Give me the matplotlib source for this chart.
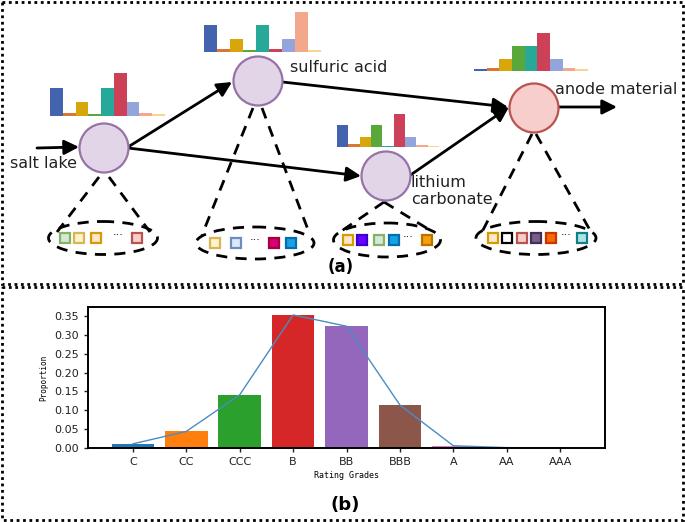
import matplotlib.pyplot as plt
from matplotlib.patches import Ellipse, Rectangle

# ---- panel (b) data
grades = ["C", "CC", "CCC", "B", "BB", "BBB", "A", "AA", "AAA"]
proportion = [0.011, 0.044, 0.141, 0.353, 0.323, 0.114, 0.006, 0.001, 0.0]
grade_colors = ["tab:blue", "tab:orange", "tab:green", "tab:red", "tab:purple",
                "tab:brown", "tab:pink", "tab:gray", "tab:olive"]

# ---- panel (a) data: mini histograms above each node (relative heights)
hist_colors = ["#4363ae", "#dc7633", "#d6a60a", "#5aa83a", "#27a99a",
               "#cc4157", "#94a5dc", "#f3a88b", "#f6d68f"]
hist_salt_lake = [28, 3, 14, 2, 28, 43, 14, 3, 2]
hist_sulfuric = [27, 3.5, 13, 2, 27, 3.5, 13, 40, 2]
hist_lithium = [22, 2.7, 10, 22, 1.3, 33, 10, 2, 1.3]
hist_anode = [2, 3.5, 12, 25, 25, 38, 12, 3.5, 2]

node_names = ["salt lake", "sulfuric acid", "lithium\ncarbonate", "anode material"]

# item squares below each node: (edge, face); None = "..."
sq_salt_lake = [("#82b366", "#d5e8d4"), ("#d6b656", "#fff2cc"), ("#d79b00", "#ffe6cc"),
                None, ("#b85450", "#f8cecc")]
sq_sulfuric = [("#d6b656", "#fff2cc"), ("#6c8ebf", "#dae8fc"), None,
               ("#a50040", "#d80073"), ("#006eaf", "#1ba1e2")]
sq_lithium = [("#d79b00", "#ffe6cc"), ("#3700cc", "#6a00ff"), ("#82b366", "#d5e8d4"),
              ("#006eaf", "#1ba1e2"), None, ("#bd7000", "#f0a30a")]
sq_anode = [("#d79b00", "#ffe6cc"), ("#000000", "#ffffff"), ("#b85450", "#f8cecc"),
            ("#432d57", "#76608a"), ("#c73500", "#fa6800"), None, ("#0e8088", "#b0e3e6")]

W, H = 685, 522
fig = plt.figure(figsize=(W / 100, H / 100), dpi=100)
ax = fig.add_axes([0, 0, 1, 1])
ax.set_xlim(0, W)
ax.set_ylim(H, 0)
ax.axis("off")

# dotted frames
for (x0, y0, x1, y1) in [(2, 2, 683, 284), (2, 287, 683, 520)]:
    ax.add_patch(Rectangle((x0, y0), x1 - x0, y1 - y0, fill=False,
                           ls=(0, (1, 1.3)), lw=2, color="k"))

# layout of nodes (pixel centres)
nodes = [(104, 148), (258, 81), (386, 176), (534, 108)]
node_face = ["#e1d5e7", "#e1d5e7", "#e1d5e7", "#f8cecc"]
node_edge = ["#9673a6", "#9673a6", "#9673a6", "#b85450"]
R = 24.5


def arrow(p0, p1):
    ax.annotate("", xy=p1, xytext=p0,
                arrowprops=dict(arrowstyle="-|>", lw=2, color="k",
                                mutation_scale=22, shrinkA=0, shrinkB=0))


arrow((37, 148), (79, 147))
arrow((128, 147), (232, 82))
arrow((128, 148), (361, 176))
arrow((282.5, 82), (508, 107))
arrow((410.5, 175), (509, 107))
arrow((559, 107), (617, 107))

for (cx, cy), fc, ec in zip(nodes, node_face, node_edge):
    ax.add_patch(Ellipse((cx, cy), 2 * R, 2 * R, fc=fc, ec=ec, lw=1.6, zorder=3))

ax.text(10, 163, node_names[0], fontsize=11.5, va="center", color="#222222")
ax.text(290, 68, node_names[1], fontsize=11.5, va="center", color="#222222")
ax.text(411, 191, node_names[2], fontsize=11.5, va="center", color="#222222",
        linespacing=1.1)
ax.text(555, 89, node_names[3], fontsize=11.5, va="center", color="#222222")
ax.text(341, 267, "(a)", fontsize=12, fontweight="bold", ha="center", va="center")
ax.text(345, 505, "(b)", fontsize=13, fontweight="bold", ha="center", va="center")

# dashed cones + ellipses with item squares
dash = (0, (4, 3))
groups = [
    ((103, 238), 109, 33, [(99, 177), (109, 177)], [(57, 232), (150, 232)],
     [-37.5, -23.5, -7, 15, 34], sq_salt_lake),
    ((255, 243), 118, 32, [(253, 108), (262, 108)], [(202, 235), (310, 235)],
     [-40, -19, 0.5, 19, 36], sq_sulfuric),
    ((387, 240), 107, 34, [(384, 202), (384, 202)], [(340, 232), (433, 232)],
     [-39, -24.5, -8, 7, 21, 40], sq_lithium),
    ((536, 238), 120, 33, [(532, 134), (536, 134)], [(482, 232), (591, 232)],
     [-42.5, -28.5, -14, 0, 15, 30, 46], sq_anode),
]
for (ex, ey), ew, eh, tops, bots, offs, squares in groups:
    ax.add_patch(Ellipse((ex, ey), ew, eh, fill=False, ls=dash, lw=2, color="k"))
    for t, b in zip(tops, bots):
        ax.plot([t[0], b[0]], [t[1], b[1]], color="k", lw=2, ls=dash)
    for dx, sq in zip(offs, squares):
        if sq is None:
            ax.text(ex + dx, ey - 3, "···", fontsize=8, ha="center", va="center")
        else:
            ax.plot(ex + dx, ey, marker="s", ms=6.5, mew=1.6,
                    mec=sq[0], mfc=sq[1], zorder=4)

# mini histograms
hists = [(hist_salt_lake, 50, 165, 116), (hist_sulfuric, 204, 321, 52),
         (hist_lithium, 337, 439, 147), (hist_anode, 474, 588, 71)]
for vals, x0, x1, base in hists:
    hax = fig.add_axes([x0 / W, 1 - base / H, (x1 - x0) / W, 45 / H])
    hax.bar(range(len(vals)), vals, width=1.0, color=hist_colors)
    hax.set_xlim(-0.5, len(vals) - 0.5)
    hax.set_ylim(0, 45)
    hax.axis("off")

# ---- panel (b)
bx = fig.add_axes([88 / W, 1 - 448 / H, (605 - 88) / W, (448 - 307) / H])
bx.bar(grades, proportion, color=grade_colors)
bx.plot(grades, proportion, color="#4a8cc4", lw=1)
bx.set_ylim(0, 0.374)
bx.set_yticks([0, 0.05, 0.10, 0.15, 0.20, 0.25, 0.30, 0.35])
bx.set_yticklabels([f"{v:.2f}" for v in bx.get_yticks()])
bx.tick_params(labelsize=8, length=3, width=1, colors="#222222")
for s in bx.spines.values():
    s.set_linewidth(1.4)
bx.set_xlabel("Rating Grades", fontsize=6, family="DejaVu Sans Mono", labelpad=3)
bx.set_ylabel("Proportion", fontsize=5.5, family="DejaVu Sans Mono", labelpad=4)

fig.savefig("out.png", dpi=100)
